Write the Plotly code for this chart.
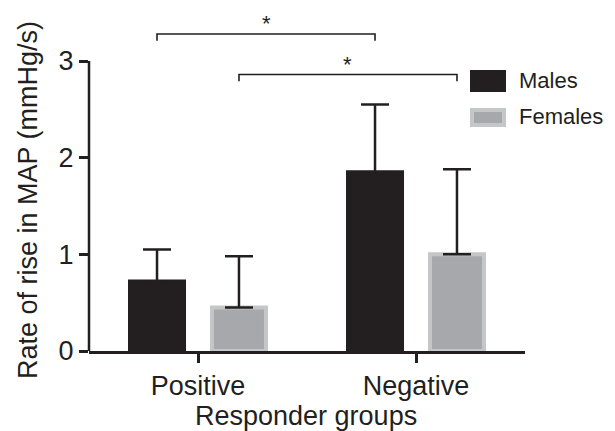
import plotly.graph_objects as go

# ---------------- data ----------------
groups = ["Positive", "Negative"]
series_names = ["Males", "Females"]
males_mean = [0.72, 1.85]
males_err = [0.33, 0.70]
females_mean = [0.45, 1.00]
females_err = [0.53, 0.88]
y_ticks = [0, 1, 2, 3]
x_title = "Responder groups"
y_title = "Rate of rise in MAP (mmHg/s)"
sig_label = "*"

# ---------------- style ----------------
INK = "#231f20"
F_FILL = "#a6a8ab"
F_EDGE = "#c5c6c8"
FONT = "Liberation Sans, Arial, Helvetica, sans-serif"
PAGE_OFF = 8            # default body margin of the html page
W, H = 615 - PAGE_OFF, 431 - PAGE_OFF
ML, MR, MT, MB = 89 - PAGE_OFF, 90, 0, 80
ph = H - MT - MB
pw = W - ML - MR
UNIT = (351 - 61) / 3.0          # screen pixels per y unit
YMAX = ph / UNIT
BARGAP = 0.248
BARGROUPGAP = 0.341
slot = (1 - BARGAP) / 2
OFF = slot / 2


def px_x(px):
    """screen x pixel -> paper coord"""
    return (px - PAGE_OFF - ML) / pw


def px_y(py):
    """screen y pixel -> paper coord"""
    return (H - MB - (py - PAGE_OFF)) / ph


fig = go.Figure()
fig.add_trace(go.Bar(
    x=groups, y=males_mean, name=series_names[0],
    marker=dict(color=INK, line=dict(color=INK, width=4)),
    error_y=dict(type="data", array=males_err, arrayminus=[0] * len(males_err),
                 symmetric=False, color=INK, thickness=2.5, width=14),
    showlegend=False,
))
fig.add_trace(go.Bar(
    x=groups, y=females_mean, name=series_names[1],
    marker=dict(color=F_FILL, line=dict(color=F_EDGE, width=4)),
    error_y=dict(type="data", array=females_err, arrayminus=[0] * len(females_err),
                 symmetric=False, color=INK, thickness=2.5, width=14),
    showlegend=False,
))

shapes = []
# y axis line only from 0 to 3
shapes.append(dict(type="line", xref="paper", yref="y", x0=0, x1=0,
                   y0=y_ticks[0], y1=y_ticks[-1], line=dict(color=INK, width=2.5)))

# significance brackets: Males Positive vs Males Negative; Females Positive vs Females Negative
brackets = [
    (0 - OFF, 1 - OFF, 3.28, 3.21),
    (0 + OFF, 1 + OFF, 2.86, 2.79),
]
for x0, x1, yt, yb in brackets:
    shapes.append(dict(type="path", xref="x", yref="y",
                       path=f"M {x0},{yb} L {x0},{yt} L {x1},{yt} L {x1},{yb}",
                       line=dict(color=INK, width=1.6)))

annotations = []
for x0, x1, yt, yb in brackets:
    annotations.append(dict(x=(x0 + x1) / 2, y=yt, xref="x", yref="y", text=sig_label,
                            showarrow=False, yanchor="bottom", yshift=-4,
                            font=dict(family=FONT, size=22, color=INK)))

# legend drawn manually (large swatches)
shapes.append(dict(type="rect", xref="paper", yref="paper",
                   x0=px_x(470), x1=px_x(506), y0=px_y(92), y1=px_y(70),
                   fillcolor=INK, line=dict(width=0)))
shapes.append(dict(type="rect", xref="paper", yref="paper",
                   x0=px_x(472), x1=px_x(504), y0=px_y(125), y1=px_y(110),
                   fillcolor=F_FILL, line=dict(color=F_EDGE, width=4)))
annotations.append(dict(x=px_x(517), y=px_y(81), xref="paper", yref="paper",
                        text=series_names[0], showarrow=False, xanchor="left", yanchor="middle",
                        font=dict(family=FONT, size=22, color=INK)))
annotations.append(dict(x=px_x(517), y=px_y(117), xref="paper", yref="paper",
                        text=series_names[1], showarrow=False, xanchor="left", yanchor="middle",
                        font=dict(family=FONT, size=22, color=INK)))

# axis titles
annotations.append(dict(x=px_x(306), y=px_y(416), xref="paper", yref="paper",
                        text=x_title, showarrow=False, xanchor="center", yanchor="middle",
                        font=dict(family=FONT, size=27, color=INK)))
annotations.append(dict(x=px_x(28), y=px_y(200), xref="paper", yref="paper",
                        text=y_title, showarrow=False, xanchor="center", yanchor="middle",
                        textangle=-90, font=dict(family=FONT, size=27, color=INK)))

fig.update_layout(
    width=W, height=H,
    margin=dict(l=ML, r=MR, t=MT, b=MB, autoexpand=False),
    paper_bgcolor="white", plot_bgcolor="white",
    barmode="group", bargap=BARGAP, bargroupgap=BARGROUPGAP,
    font=dict(family=FONT, color=INK),
    shapes=shapes, annotations=annotations,
    xaxis=dict(type="category", range=[-0.5, 1.5], showline=True, linecolor=INK, linewidth=2.5,
               ticks="outside", ticklen=9, tickwidth=2.5, tickcolor=INK,
               tickfont=dict(family=FONT, size=27, color=INK), showgrid=False, zeroline=False,
               fixedrange=True),
    yaxis=dict(range=[0, YMAX], tickvals=y_ticks, showline=False,
               ticks="outside", ticklen=9, tickwidth=2.5, tickcolor=INK,
               tickfont=dict(family=FONT, size=27, color=INK), showgrid=False, zeroline=False,
               fixedrange=True),
)

fig.write_html("out.html")
